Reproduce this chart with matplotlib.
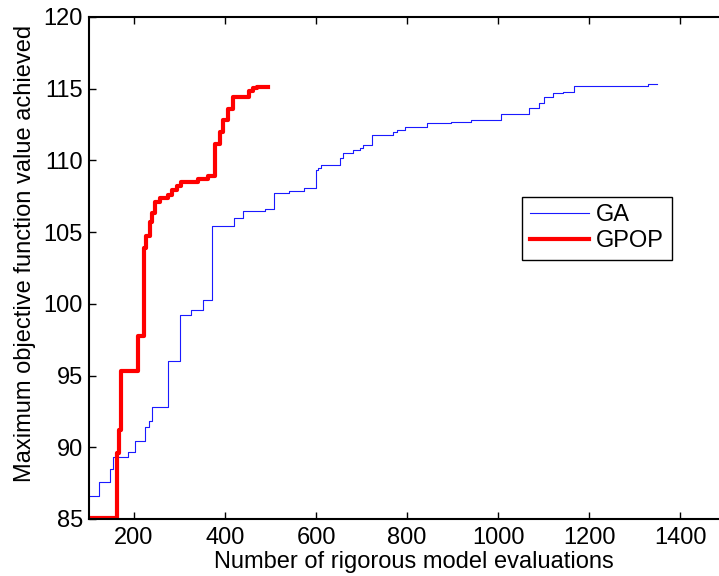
import numpy as np
import matplotlib.pyplot as plt

plt.rcParams['font.family'] = ['Liberation Sans', 'DejaVu Sans']

# GA run (step values)
ga_x = [100, 123, 147, 153, 186, 202, 225, 232, 239, 275, 301, 326, 352, 372,
        419, 440, 488, 508, 541, 574, 601, 605, 612, 653, 659, 681, 696, 704,
        722, 770, 777, 796, 843, 896, 941, 1007, 1068, 1091, 1100, 1121, 1143,
        1167, 1330, 1349]
ga_y = [86.6, 87.6, 88.5, 89.35, 89.7, 90.45, 91.4, 91.8, 92.8, 96.0, 99.2, 99.6,
        100.3, 105.45, 105.97, 106.5, 106.6, 107.75, 107.85, 108.05, 109.3, 109.5,
        109.65, 110.15, 110.55, 110.7, 110.9, 111.1, 111.8, 112.0, 112.15, 112.3,
        112.6, 112.7, 112.8, 113.25, 113.65, 114.0, 114.4, 114.7, 114.8, 115.2,
        115.3, 115.3]

# GPOP run
gpop_x = [100, 163, 168, 171, 208, 223, 226, 235, 240, 246, 257, 275, 283, 294,
          303, 341, 363, 378, 389, 395, 407, 417, 453, 462, 470, 494]
gpop_y = [85.1, 89.6, 91.2, 95.3, 97.75, 103.9, 104.75, 105.7, 106.3, 107.1,
          107.4, 107.6, 107.95, 108.2, 108.5, 108.73, 108.88, 111.15, 112.0,
          112.8, 113.6, 114.4, 114.87, 115.03, 115.15, 115.15]

fig = plt.figure(figsize=(7.19, 5.76), dpi=100)
ax = fig.add_axes([0.1231, 0.099, 0.886, 0.8715])

ax.plot(ga_x, ga_y, drawstyle="steps-post", color=(0.1, 0.1, 1.0), linewidth=0.8, label="GA")
ax.plot(gpop_x, gpop_y, drawstyle="steps-post", color="red", linewidth=3, label="GPOP")

ax.set_xlim(100, 1500)
ax.set_ylim(85, 120)
ax.set_xticks(np.arange(200, 1401, 200))
ax.set_yticks(np.arange(85, 121, 5))
ax.tick_params(direction="in", top=True, right=True, labelsize=17, length=5, width=1)
ax.tick_params(axis="x", pad=6)
ax.tick_params(axis="y", pad=4)
for s in ax.spines.values():
    s.set_linewidth(1.5)

ax.set_xlabel("Number of rigorous model evaluations", fontsize=17)
ax.set_ylabel("Maximum objective function value achieved", fontsize=17)
ax.xaxis.set_label_coords(0.511, -0.063)
ax.yaxis.set_label_coords(-0.082, 0.528)

leg = ax.legend(loc="upper left", bbox_to_anchor=(0.681, 0.642), borderaxespad=0,
                fontsize=17, fancybox=False, framealpha=1, edgecolor="black",
                handlelength=2.5, handletextpad=0.3, borderpad=0.33, labelspacing=0.15)
leg.get_frame().set_linewidth(1.0)

fig.savefig("out.png")
